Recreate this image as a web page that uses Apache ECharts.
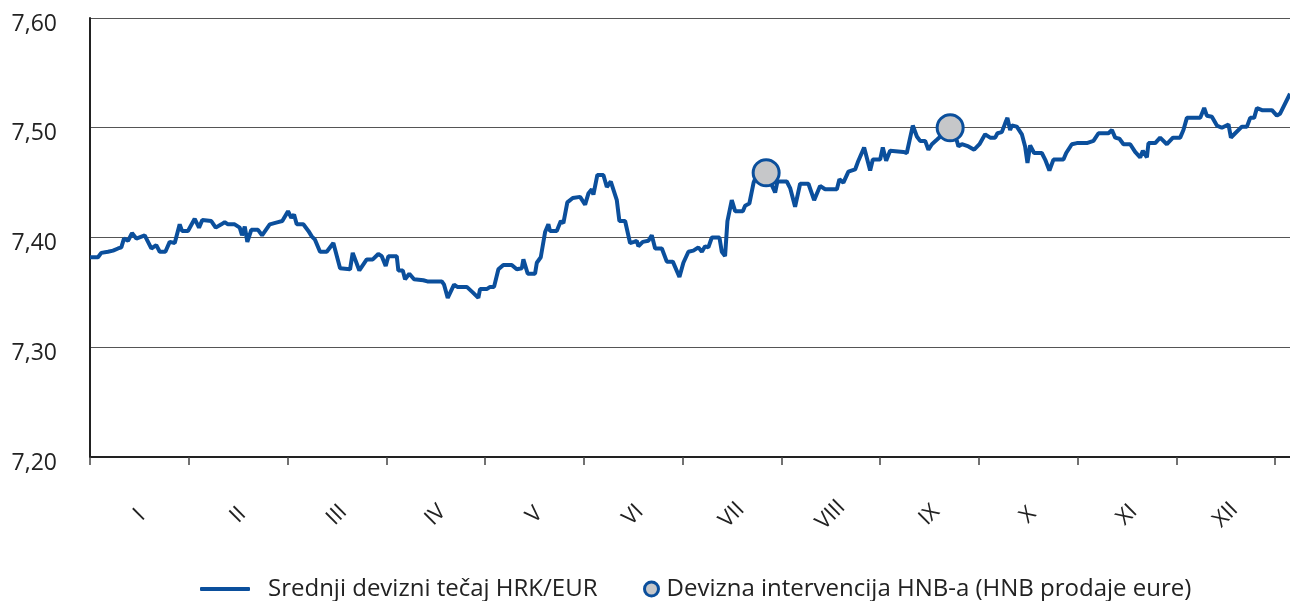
<!DOCTYPE html>
<html>
<head>
<meta charset="utf-8">
<script src="https://cdn.jsdelivr.net/npm/echarts@6/dist/echarts.min.js"></script>
<style>
html,body{margin:0;padding:0;background:#fff;}
#chart{width:1290px;height:601px;}
</style>
</head>
<body>
<div id="chart"></div>
<script>
const months = ['I','II','III','IV','V','VI','VII','VIII','IX','X','XI','XII'];
const yTicks = [7.2, 7.3, 7.4, 7.5, 7.6];
const rateName = 'Srednji devizni tečaj HRK/EUR';
const interventionName = 'Devizna intervencija HNB-a (HNB prodaje eure)';

// position along the year in month units (0 = start of January)
const rateMonth = [
0.00,0.081,0.114,0.182,0.233,0.284,0.317,0.344,0.385,0.425,0.469,0.554,0.621,0.671,0.706,0.763,0.807,0.858,0.908,0.932,
0.992,1.060,1.104,1.137,1.228,1.273,1.330,1.364,1.397,1.465,1.516,1.539,1.567,1.593,1.633,1.701,1.742,1.820,1.904,1.947,
2.005,2.038,2.066,2.093,2.160,2.211,2.245,2.278,2.329,2.397,2.464,2.532,2.633,2.660,2.727,2.802,2.863,2.919,2.954,2.994,
3.021,3.106,3.122,3.167,3.190,3.233,3.281,3.375,3.416,3.562,3.585,3.622,3.686,3.719,3.815,3.875,3.932,3.949,4.017,4.051,
4.091,4.111,4.135,4.185,4.270,4.321,4.372,4.388,4.432,4.506,4.524,4.564,4.608,4.641,4.658,4.726,4.767,4.793,4.833,4.888,
4.962,5.013,5.046,5.081,5.097,5.137,5.198,5.233,5.273,5.334,5.360,5.418,5.468,5.509,5.536,5.552,5.597,5.654,5.688,5.722,
5.790,5.840,5.901,5.968,6.008,6.059,6.109,6.160,6.195,6.228,6.261,6.296,6.373,6.397,6.430,6.454,6.498,6.532,6.610,6.633,
6.676,6.719,6.751,6.846,6.886,6.937,6.960,7.055,7.089,7.139,7.190,7.274,7.332,7.392,7.443,7.562,7.588,7.628,7.679,7.747,
7.780,7.838,7.899,7.926,8.000,8.027,8.061,8.101,8.236,8.270,8.331,8.372,8.405,8.456,8.489,8.524,8.574,8.709,8.777,8.793,
8.828,8.894,8.952,9.006,9.063,9.114,9.165,9.188,9.232,9.266,9.289,9.316,9.334,9.384,9.435,9.468,9.492,9.519,9.559,9.637,
9.671,9.714,9.755,9.856,9.884,9.941,9.992,10.025,10.093,10.160,10.211,10.312,10.347,10.380,10.423,10.464,10.532,10.582,10.633,10.660,
10.701,10.717,10.785,10.835,10.903,10.965,11.038,11.071,11.106,11.241,11.281,11.308,11.359,11.410,11.460,11.527,11.552,11.595,11.663,11.714,
11.747,11.787,11.815,11.866,11.967,12.017,12.051,12.150
];
const rateValue = [
7.382,7.382,7.386,7.387,7.388,7.390,7.391,7.399,7.397,7.404,7.399,7.402,7.390,7.393,7.387,7.387,7.396,7.395,7.412,7.406,
7.406,7.417,7.409,7.416,7.415,7.409,7.412,7.414,7.412,7.412,7.409,7.402,7.410,7.396,7.407,7.407,7.402,7.412,7.414,7.415,
7.424,7.418,7.421,7.412,7.412,7.406,7.401,7.398,7.387,7.387,7.395,7.372,7.371,7.386,7.370,7.380,7.380,7.385,7.383,7.374,
7.383,7.383,7.370,7.370,7.362,7.367,7.362,7.361,7.360,7.360,7.357,7.345,7.357,7.355,7.355,7.350,7.345,7.353,7.353,7.355,
7.355,7.355,7.371,7.375,7.375,7.371,7.372,7.380,7.367,7.367,7.377,7.382,7.405,7.412,7.406,7.406,7.415,7.413,7.432,7.436,
7.437,7.430,7.440,7.444,7.439,7.457,7.457,7.446,7.451,7.434,7.415,7.415,7.395,7.396,7.397,7.392,7.396,7.397,7.402,7.390,
7.390,7.378,7.378,7.364,7.377,7.387,7.388,7.391,7.387,7.392,7.391,7.400,7.400,7.387,7.383,7.415,7.434,7.424,7.424,7.429,
7.431,7.450,7.457,7.459,7.451,7.441,7.451,7.451,7.445,7.428,7.449,7.449,7.434,7.447,7.444,7.444,7.453,7.450,7.460,7.462,
7.470,7.482,7.461,7.471,7.471,7.482,7.470,7.479,7.478,7.477,7.502,7.492,7.488,7.488,7.480,7.485,7.489,7.500,7.488,7.483,
7.485,7.483,7.480,7.485,7.494,7.491,7.491,7.495,7.496,7.504,7.509,7.498,7.502,7.501,7.494,7.483,7.468,7.484,7.477,7.477,
7.471,7.461,7.471,7.471,7.477,7.485,7.486,7.486,7.486,7.488,7.495,7.495,7.498,7.491,7.490,7.485,7.485,7.478,7.473,7.479,
7.473,7.486,7.486,7.491,7.485,7.491,7.491,7.498,7.509,7.509,7.518,7.511,7.510,7.502,7.500,7.503,7.491,7.495,7.501,7.501,
7.509,7.509,7.518,7.516,7.516,7.511,7.513,7.531
];
const interventionMonth = [6.846, 8.709];
const interventionValue = [7.459, 7.500];

const blue = '#0b4f9c';
const ink = '#222222';
const font = '"Open Sans"';

const rateData = rateMonth.map((m, i) => [m, rateValue[i]]);
const interventionData = interventionMonth.map((m, i) => [m, interventionValue[i]]);

const chart = echarts.init(document.getElementById('chart'), null, {renderer: 'canvas'});
chart.setOption({
  animation: false,
  backgroundColor: '#ffffff',
  textStyle: {fontFamily: font},
  grid: [
    {left: 90, right: 0, top: 18, bottom: 144},
    {left: 90, right: 15, top: 18, bottom: 144}
  ],
  xAxis: [
    {
      type: 'value', gridIndex: 0, min: 0, max: 12.15,
      axisLine: {show: true, lineStyle: {color: ink, width: 2}},
      axisTick: {show: false}, axisLabel: {show: false}, splitLine: {show: false}
    },
    {
      type: 'category', gridIndex: 1, data: months, boundaryGap: true,
      axisLine: {show: false},
      axisTick: {show: true, length: 8, lineStyle: {color: '#444', width: 1.5}},
      axisLabel: {
        rotate: 45, align: 'center', verticalAlign: 'middle', margin: 58,
        fontSize: 22, color: ink, fontFamily: font
      },
      splitLine: {show: false}
    }
  ],
  yAxis: [
    {
      type: 'value', gridIndex: 0, min: yTicks[0], max: yTicks[yTicks.length - 1], interval: 0.1,
      axisLine: {show: true, lineStyle: {color: ink, width: 2}},
      axisTick: {show: false},
      axisLabel: {
        fontSize: 23, color: ink, fontFamily: font, margin: 33,
        verticalAlign: 'top', lineHeight: 12,
        formatter: v => v.toFixed(2).replace('.', ',')
      },
      splitLine: {show: true, lineStyle: {color: '#555', width: 1}}
    },
    {type: 'value', gridIndex: 1, show: false, min: 0, max: 1}
  ],
  legend: [
    {
      data: [rateName], left: 195, top: 572, icon: 'roundRect', itemWidth: 50, itemHeight: 4,
      textStyle: {fontSize: 24, color: ink, fontFamily: font, padding: [0, 0, 0, 13]}
    },
    {
      data: [interventionName], left: 638, top: 572, icon: 'circle', itemWidth: 14, itemHeight: 14,
      itemStyle: {color: '#c6c7c9', borderColor: blue, borderWidth: 3, opacity: 1},
      textStyle: {fontSize: 24, color: ink, fontFamily: font, padding: [0, 0, 0, 3]}
    }
  ],
  series: [
    {
      name: rateName, type: 'line', xAxisIndex: 0, yAxisIndex: 0,
      data: rateData, showSymbol: false, symbol: 'none',
      lineStyle: {color: blue, width: 4}, itemStyle: {color: blue}, z: 3
    },
    {
      name: interventionName, type: 'scatter', xAxisIndex: 0, yAxisIndex: 0,
      data: interventionData, symbol: 'circle', symbolSize: 26,
      itemStyle: {color: '#c6c7c9', borderColor: blue, borderWidth: 3, opacity: 1}, z: 5
    }
  ]
});
</script>
</body>
</html>
